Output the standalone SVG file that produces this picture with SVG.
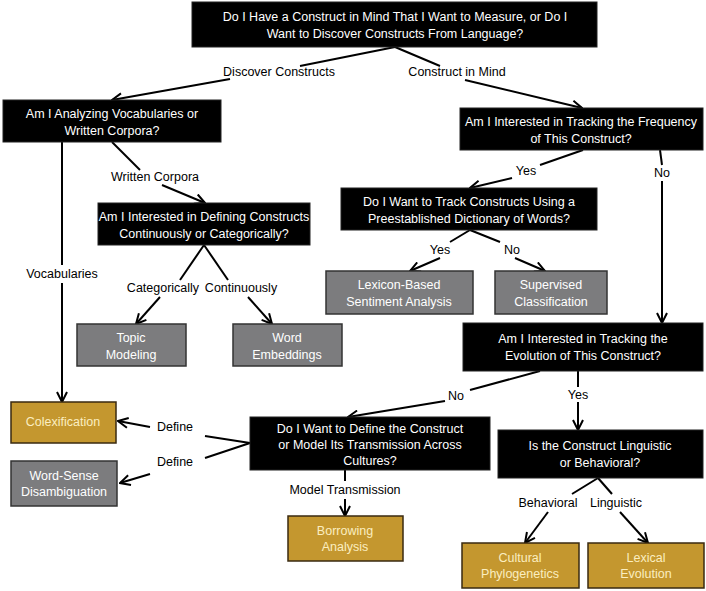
<svg xmlns="http://www.w3.org/2000/svg" width="706" height="591" viewBox="0 0 706 591">
<style>
text{font-family:"Liberation Sans Narrow","Liberation Sans",sans-serif;font-size:12.5px;text-anchor:middle}
.q rect{fill:#000;stroke:#222}
.q text{fill:#fff}
.g rect{fill:#c4972f;stroke:#3a2a10;stroke-width:1.5}
.g text{fill:#fbeec0}
.s rect{fill:#7c7c7e;stroke:#333;stroke-width:1.5}
.s text{fill:#fff}
.lab{fill:#000}
#edges line{stroke:#000;stroke-width:2}
#edges line.a{marker-end:url(#ah)}
</style>
<defs><marker id="ah" viewBox="0 0 12 12" refX="11" refY="6" markerWidth="12" markerHeight="12" markerUnits="userSpaceOnUse" orient="auto"><path d="M1,1 L11,6 L1,11" fill="none" stroke="#000" stroke-width="2"/></marker></defs>
<rect width="706" height="591" fill="#fff"/>
<g id="edges">
<line x1="395" y1="47" x2="300" y2="66"/><line x1="395" y1="47" x2="440" y2="66"/>
<line class="a" x1="230" y1="79" x2="112" y2="100"/><line class="a" x1="465" y1="80" x2="582" y2="108"/>
<line x1="583" y1="150" x2="540" y2="165"/><line class="a" x1="512" y1="178" x2="470" y2="188"/>
<line x1="660" y1="150" x2="662" y2="165"/><line class="a" x1="662" y1="181" x2="662" y2="323"/>
<line x1="112" y1="142" x2="140" y2="170"/><line class="a" x1="162" y1="185" x2="205" y2="203"/>
<line x1="62" y1="142" x2="62" y2="265"/><line class="a" x1="62" y1="283" x2="62" y2="402"/>
<line x1="204" y1="245" x2="180" y2="280"/><line x1="204" y1="245" x2="228" y2="280"/>
<line class="a" x1="160" y1="297" x2="136" y2="324"/><line class="a" x1="248" y1="297" x2="272" y2="324"/>
<line x1="470" y1="230" x2="450" y2="242"/><line x1="470" y1="230" x2="500" y2="242"/>
<line class="a" x1="440" y1="258" x2="410" y2="271"/><line class="a" x1="515" y1="258" x2="545" y2="271"/>
<line x1="540" y1="371" x2="470" y2="390"/><line class="a" x1="445" y1="401" x2="348" y2="417"/>
<line x1="578" y1="371" x2="578" y2="387"/><line class="a" x1="578" y1="402" x2="578" y2="430"/>
<line x1="250" y1="443" x2="205" y2="436"/><line x1="250" y1="443" x2="205" y2="458"/>
<line class="a" x1="150" y1="427" x2="118" y2="421"/><line class="a" x1="150" y1="474" x2="120" y2="483"/>
<line x1="345" y1="470" x2="345" y2="481"/><line class="a" x1="345" y1="499" x2="345" y2="516"/>
<line x1="598" y1="478" x2="572" y2="494"/><line x1="598" y1="478" x2="612" y2="494"/>
<line class="a" x1="548" y1="512" x2="525" y2="543"/><line class="a" x1="620" y1="512" x2="648" y2="543"/>
<text class="lab" x="279" y="76">Discover Constructs</text><text class="lab" x="457" y="76">Construct in Mind</text>
<text class="lab" x="526" y="175">Yes</text><text class="lab" x="662" y="177">No</text>
<text class="lab" x="155" y="181">Written Corpora</text><text class="lab" x="62" y="278">Vocabularies</text>
<text class="lab" x="163" y="292">Categorically</text><text class="lab" x="241" y="292">Continuously</text>
<text class="lab" x="440" y="254">Yes</text><text class="lab" x="512" y="254">No</text>
<text class="lab" x="456" y="400">No</text><text class="lab" x="578" y="399">Yes</text>
<text class="lab" x="175" y="431">Define</text><text class="lab" x="175" y="466">Define</text>
<text class="lab" x="345" y="494">Model Transmission</text>
<text class="lab" x="548" y="507">Behavioral</text><text class="lab" x="616" y="507">Linguistic</text>
</g>
<g id="n1" class="q"><rect x="192" y="2" width="405" height="45"/><text x="395" y="21">Do I Have a Construct in Mind That I Want to Measure, or Do I</text><text x="395" y="38">Want to Discover Constructs From Language?</text></g>
<g id="n2" class="q"><rect x="3" y="100" width="218" height="42"/><text x="112" y="118">Am I Analyzing Vocabularies or</text><text x="112" y="135">Written Corpora?</text></g>
<g id="n3" class="q"><rect x="460" y="108" width="243" height="42"/><text x="581" y="126">Am I Interested in Tracking the Frequency</text><text x="581" y="143">of This Construct?</text></g>
<g id="n4" class="q"><rect x="341" y="188" width="256" height="42"/><text x="469" y="206">Do I Want to Track Constructs Using a</text><text x="469" y="223">Preestablished Dictionary of Words?</text></g>
<g id="n5" class="q"><rect x="98" y="203" width="212" height="42"/><text x="204" y="221">Am I Interested in Defining Constructs</text><text x="204" y="238">Continuously or Categorically?</text></g>
<g id="n6" class="s"><rect x="326" y="271" width="147" height="43"/><text x="399" y="289">Lexicon-Based</text><text x="399" y="306">Sentiment Analysis</text></g>
<g id="n7" class="s"><rect x="495" y="271" width="112" height="43"/><text x="551" y="289">Supervised</text><text x="551" y="306">Classification</text></g>
<g id="n8" class="s"><rect x="77" y="324" width="109" height="42"/><text x="131" y="342">Topic</text><text x="131" y="359">Modeling</text></g>
<g id="n9" class="s"><rect x="233" y="324" width="109" height="42"/><text x="287" y="342">Word</text><text x="287" y="359">Embeddings</text></g>
<g id="n10" class="q"><rect x="463" y="323" width="240" height="48"/><text x="583" y="343">Am I Interested in Tracking the</text><text x="583" y="360">Evolution of This Construct?</text></g>
<g id="n11" class="g"><rect x="11" y="402" width="105" height="41"/><text x="63" y="426">Colexification</text></g>
<g id="n12" class="s"><rect x="11" y="461" width="106" height="45"/><text x="64" y="480">Word-Sense</text><text x="64" y="496">Disambiguation</text></g>
<g id="n13" class="q"><rect x="250" y="417" width="240" height="53"/><text x="370" y="433">Do I Want to Define the Construct</text><text x="370" y="449">or Model Its Transmission Across</text><text x="370" y="465">Cultures?</text></g>
<g id="n14" class="q"><rect x="498" y="430" width="205" height="48"/><text x="600" y="450">Is the Construct Linguistic</text><text x="600" y="467">or Behavioral?</text></g>
<g id="n15" class="g"><rect x="288" y="516" width="115" height="45"/><text x="345" y="535">Borrowing</text><text x="345" y="551">Analysis</text></g>
<g id="n16" class="g"><rect x="462" y="543" width="117" height="45"/><text x="520" y="562">Cultural</text><text x="520" y="578">Phylogenetics</text></g>
<g id="n17" class="g"><rect x="588" y="543" width="116" height="45"/><text x="646" y="562">Lexical</text><text x="646" y="578">Evolution</text></g>
</svg>
